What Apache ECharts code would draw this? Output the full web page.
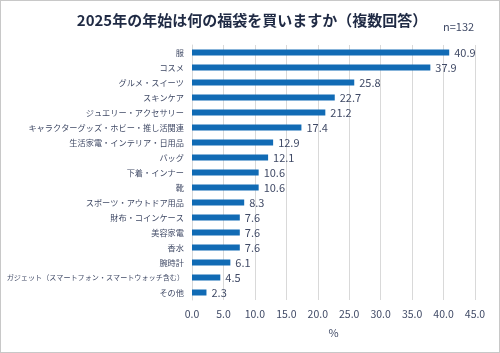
<!DOCTYPE html>
<html>
<head>
<meta charset="utf-8">
<script src="https://cdn.jsdelivr.net/npm/echarts@6/dist/echarts.min.js"></script>
<style>
  html, body { margin: 0; padding: 0; background: #fff; }
  #main { width: 500px; height: 353px; box-sizing: border-box; border: 1px solid #c8c8c8; }
</style>
</head>
<body>
<div id="main"></div>
<script>
var categories = [
    '服', 'コスメ', 'グルメ・スイーツ', 'スキンケア', 'ジュエリー・アクセサリー',
    'キャラクターグッズ・ホビー・推し活関連', '生活家電・インテリア・日用品', 'バッグ',
    '下着・インナー', '靴', 'スポーツ・アウトドア用品', '財布・コインケース', '美容家電',
    '香水', '腕時計', 'ガジェット（スマートフォン・スマートウォッチ含む）', 'その他'
];
var values = [40.9, 37.9, 25.8, 22.7, 21.2, 17.4, 12.9, 12.1, 10.6, 10.6, 8.3, 7.6, 7.6, 7.6, 6.1, 4.5, 2.3];
var titleText = '2025年の年始は何の福袋を買いますか（複数回答）';
var sampleText = 'n=132';

var font = '"Noto Sans CJK JP", "Noto Sans", sans-serif';
var textColor = '#404a66';

var chart = echarts.init(document.getElementById('main'));
chart.setOption({
    animation: false,
    textStyle: {fontFamily: font},
    title: [
        {
            text: titleText,
            left: 246, top: 7, textAlign: 'center',
            textStyle: {fontSize: 15, fontWeight: 'bold', color: '#1f2a44', fontFamily: font}
        },
        {
            text: sampleText,
            left: 437, top: 15,
            textStyle: {fontSize: 11, fontWeight: 'normal', color: textColor, fontFamily: font}
        }
    ],
    grid: {left: 191, right: 24, top: 44, bottom: 52, containLabel: false, outerBoundsMode: 'none'},
    xAxis: {
        type: 'value',
        min: 0, max: 45, interval: 5,
        name: '%',
        nameLocation: 'middle',
        nameGap: 27,
        nameTextStyle: {fontSize: 11, color: textColor},
        axisLine: {show: false},
        axisTick: {show: false},
        axisLabel: {
            fontSize: 10.5, color: textColor, margin: 9,
            formatter: function (v) { return v.toFixed(1); }
        },
        splitLine: {lineStyle: {color: '#d9d9d9', width: 1}}
    },
    yAxis: {
        type: 'category',
        data: categories,
        inverse: true,
        axisLine: {lineStyle: {color: '#d9d9d9'}},
        axisTick: {show: false},
        axisLabel: {
            fontSize: 8.2, color: textColor, margin: 8,
            formatter: function (v) {
                return v.length > 20 ? '{s|' + v + '}' : v;
            },
            rich: {s: {fontSize: 7.1, color: textColor, fontFamily: font}}
        }
    },
    series: [{
        type: 'bar',
        data: values,
        barWidth: 6,
        itemStyle: {color: '#116bb5'},
        label: {
            show: true, position: 'right', distance: 5,
            fontSize: 11, color: textColor,
            formatter: function (p) { return p.value.toFixed(1); }
        }
    }]
});
</script>
</body>
</html>
